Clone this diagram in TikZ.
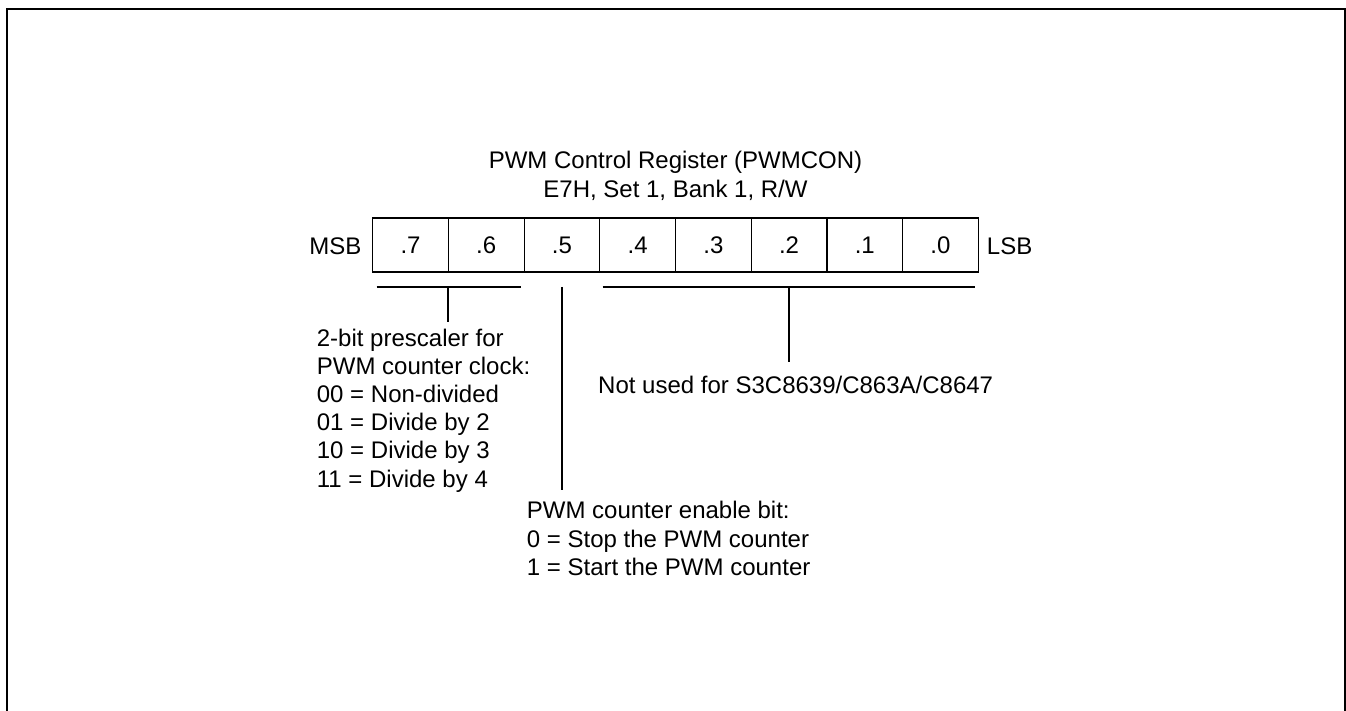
\documentclass[tikz,border=0pt]{standalone}
\usepackage{fontspec}
\setmainfont{Liberation Sans}
\begin{document}
\begin{tikzpicture}[x=1pt,y=-1pt,
  txt/.style={inner sep=0pt,font=\fontsize{24}{28}\selectfont},
  cell/.style={draw,line width=1.2pt,minimum width=75.7pt,minimum height=54pt,inner sep=0pt,font=\fontsize{24}{28}\selectfont},
  lead/.style={line width=1.2pt}]
\useasboundingbox (0,0) rectangle (1346,711);
% outer frame
\draw[line width=2pt] (7,711) -- (7,9) -- (1345,9) -- (1345,711);
% title
\node[txt,anchor=base] (t1) at (675.5,169) {PWM Control Register (PWMCON)};
\node[txt,anchor=base] (t2) at (675.5,198) {E7H, Set 1, Bank 1, R/W};
% register cells
\foreach \i/\lab in {0/7,1/6,2/5,3/4,4/3,5/2,6/1,7/0}{
  \node[cell] (b\lab) at ({372.7+75.7*(\i+0.5)},245) {.\lab};
}
\node[txt,anchor=base east] (msb) at (361.7,255) {MSB};
\node[txt,anchor=base west] (lsb) at (986.7,255) {LSB};
% leader coordinates
\coordinate (l1a) at (376.7,287);
\coordinate (l1b) at (520.7,287);
\coordinate (l1m) at (448,287);
\coordinate (l1e) at (448,321.7);
\coordinate (l2a) at (562,287);
\coordinate (l2e) at (562,490);
\coordinate (l3a) at (602.7,287);
\coordinate (l3b) at (975,287);
\coordinate (l3m) at (789,287);
\coordinate (l3e) at (789,361.7);
\draw[lead] (l1a) -- (l1b);
\draw[lead] (l1m) -- (l1e);
\draw[lead] (l2a) -- (l2e);
\draw[lead] (l3a) -- (l3b);
\draw[lead] (l3m) -- (l3e);
% left description
\node[txt,anchor=base west] (p1) at (316.7,346.5) {2-bit prescaler for};
\node[txt,anchor=base west] (p2) at (316.7,374.6) {PWM counter clock:};
\node[txt,anchor=base west] (p3) at (316.7,402.7) {00 = Non-divided};
\node[txt,anchor=base west] (p4) at (316.7,430.8) {01 = Divide by 2};
\node[txt,anchor=base west] (p5) at (316.7,458.9) {10 = Divide by 3};
\node[txt,anchor=base west] (p6) at (316.7,487) {11 = Divide by 4};
% right description
\node[txt,anchor=base west] (n1) at (598,393) {Not used for S3C8639/C863A/C8647};
% middle description
\node[txt,anchor=base west] (e1) at (526.7,518.5) {PWM counter enable bit:};
\node[txt,anchor=base west] (e2) at (526.7,547) {0 = Stop the PWM counter};
\node[txt,anchor=base west] (e3) at (526.7,575.5) {1 = Start the PWM counter};
\end{tikzpicture}
\end{document}
